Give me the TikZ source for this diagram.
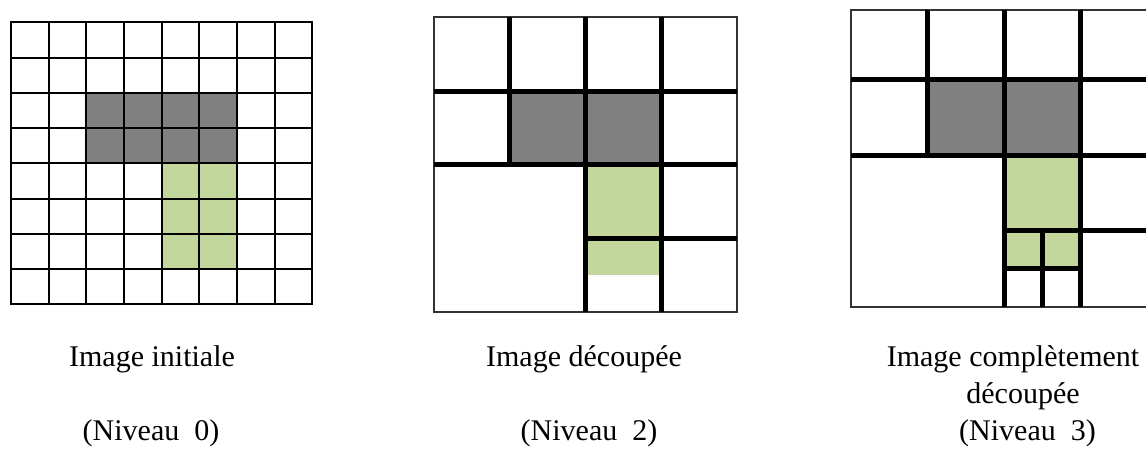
\documentclass[tikz,border=0pt]{standalone}
\usepackage{fontspec}
\setmainfont{Liberation Serif}
\usepackage{xcolor}
\usepackage{tikz}
\definecolor{cellgray}{HTML}{808080}
\definecolor{cellgreen}{HTML}{C3D69B}
\tikzset{
  gridline/.style={draw=black, line width=2pt, line cap=rect},
  frame/.style={draw=black!80, line width=1.8pt},
  cutline/.style={draw=black, line width=5pt},
  darkcell/.style={fill=cellgray},
  greencell/.style={fill=cellgreen},
  caption/.style={anchor=base, inner sep=0pt, font=\fontsize{30}{37.5}\selectfont},
}
\begin{document}
\begin{tikzpicture}[x=1pt, y=-1pt]
  \useasboundingbox (0,0) rectangle (1146,448);
  \clip (0,0) rectangle (1146,448);

  % --- Niveau 0 : grille 8x8 ---
  \begin{scope}[shift={(11,22.3)}, x=37.65pt, y=-35.25pt]
    \fill[darkcell] (2,2) rectangle (6,4);
    \fill[greencell] (4,4) rectangle (6,7);
    \foreach \i in {0,...,8} {
      \draw[gridline] (\i,0) -- (\i,8);
      \draw[gridline] (0,\i) -- (8,\i);
    }
  \end{scope}

  % --- Niveau 2 ---
  \begin{scope}[shift={(434.3,17.3)}, x=75.6pt, y=-73.75pt]
    \fill[darkcell] (1,1) rectangle (3,2);
    \fill[greencell] (2,2) rectangle (3,3.5);
    \draw[frame] (0,0) rectangle (4,4);
    \draw[cutline] (1,0) -- (1,2);
    \draw[cutline] (2,0) -- (2,4);
    \draw[cutline] (3,0) -- (3,4);
    \draw[cutline] (0,1) -- (4,1);
    \draw[cutline] (0,2) -- (4,2);
    \draw[cutline] (2,3) -- (4,3);
  \end{scope}

  % --- Niveau 3 ---
  \begin{scope}[shift={(851,3.5)}, x=76.6pt, y=-75.8pt]
    \fill[darkcell] (1,1) rectangle (3,2);
    \fill[greencell] (2,2) rectangle (3,3.5);
    \draw[frame] (0,0.086) rectangle (4,4);
    \draw[cutline] (1,0.086) -- (1,2);
    \draw[cutline] (2,0.086) -- (2,4);
    \draw[cutline] (3,0.086) -- (3,4);
    \draw[cutline] (0,1) -- (4,1);
    \draw[cutline] (0,2) -- (4,2);
    \draw[cutline] (2,3) -- (4,3);
    \draw[cutline] (2,3.5) -- (3,3.5);
    \draw[cutline] (2.5,3) -- (2.5,4);
  \end{scope}

  % legendes
  \node[caption] (init) at (152,366) {Image initiale};
  \node[caption] (niv0) at (151,440) {(Niveau~~0)};
  \node[caption] (decoup) at (584,366) {Image découpée};
  \node[caption] (niv2) at (589,440) {(Niveau~~2)};
  \node[caption] (complet) at (1013,366) {Image complètement};
  \node[caption] (decoupee) at (1023,403) {découpée};
  \node[caption] (niv3) at (1027.5,440) {(Niveau~~3)};
\end{tikzpicture}
\end{document}
